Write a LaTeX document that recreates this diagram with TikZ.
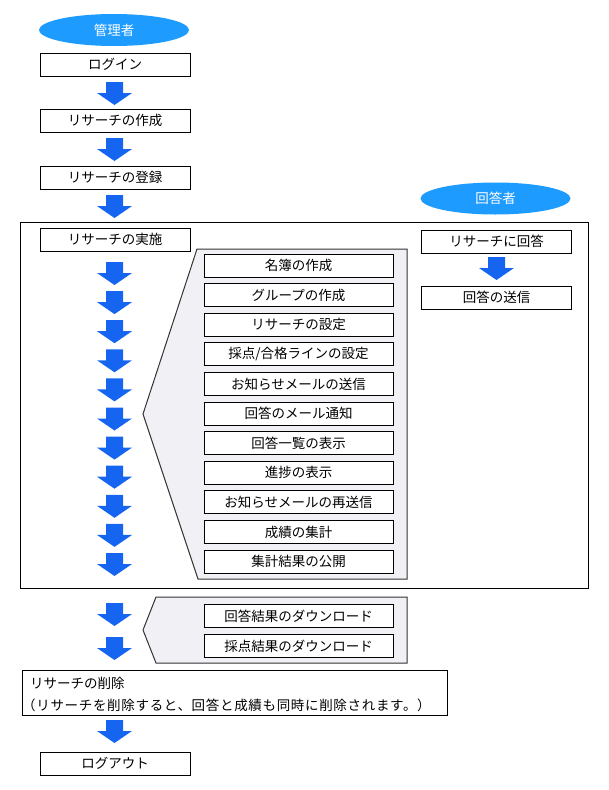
\documentclass[tikz,border=0pt]{standalone}
\usepackage{fontspec}
\setmainfont{Noto Sans CJK JP}
\usetikzlibrary{shapes.geometric}
\definecolor{arrowblue}{RGB}{21,101,240}
\definecolor{ellblue}{RGB}{30,155,255}
\definecolor{calloutfill}{RGB}{240,240,245}
\tikzset{
  box/.style={draw=black, line width=1pt, fill=white, minimum width=150pt, minimum height=23pt, inner sep=0pt, font=\fontsize{13.5}{15}\selectfont},
  innerbox/.style={box, minimum width=189pt},
  actor/.style={ellipse, fill=ellblue, text=white, minimum width=150pt, minimum height=32pt, inner sep=0pt, font=\fontsize{13.5}{15}\selectfont},
  plain/.style={inner sep=0pt, anchor=west, font=\fontsize{13.5}{15}\selectfont},
  callout/.style={draw=black!80, line width=1pt, fill=calloutfill},
  bluearrow/.pic={\fill[arrowblue] (-8.5,0) -- (8.5,0) -- (8.5,11) -- (17.5,11) -- (0,23) -- (-17.5,11) -- (-8.5,11) -- cycle;}
}
\begin{document}
\begin{tikzpicture}[x=1pt,y=-1pt]
\useasboundingbox (0,0) rectangle (609,790);
% actors
\node[actor] (admin) at (114,30) {管理者};
\node[actor] (resp) at (495.5,198.5) {回答者};
% top flow
\node[box] (login) at (115,64.5) {ログイン};
\pic at (114.5,82) {bluearrow};
\node[box] (create) at (115,120.5) {リサーチの作成};
\pic at (114.5,138) {bluearrow};
\node[box] (reg) at (115,177.5) {リサーチの登録};
\pic at (114.5,195) {bluearrow};
% frame
\draw[line width=1pt] (20,222.5) rectangle (588,588);
\node[box] (run) at (115,239.5) {リサーチの実施};
\foreach \k in {0,...,10} { \pic at (114.5,{262+29.1*\k}) {bluearrow}; }
% callout 1
\draw[callout] (143,414) -- (197,249) -- (407,249) -- (407,579) -- (198,579) -- cycle;
\foreach \t [count=\k from 0] in {名簿の作成,グループの作成,リサーチの設定,採点/合格ラインの設定,お知らせメールの送信,回答のメール通知,回答一覧の表示,進捗の表示,お知らせメールの再送信,成績の集計,集計結果の公開} {
  \node[innerbox] (i\k) at (298.5,{265.5+29.6*\k}) {\t};
}
% respondent
\node[box] (answer) at (496.5,241.5) {リサーチに回答};
\pic at (496.5,257) {bluearrow};
\node[box] (send) at (496.5,297.5) {回答の送信};
% lower section
\pic at (114.5,603) {bluearrow};
\pic at (114.5,637) {bluearrow};
\draw[callout] (143,630) -- (156,597) -- (407,597) -- (407,663) -- (156,663) -- cycle;
\node[innerbox] (dl1) at (298.5,616) {回答結果のダウンロード};
\node[innerbox] (dl2) at (298.5,646) {採点結果のダウンロード};
% delete
\node[draw=black, line width=1pt, minimum width=425pt, minimum height=45pt, inner sep=0pt, anchor=north west] (del) at (22,670) {};
\node[plain] (del1) at (30,683) {リサーチの削除};
\node[plain] (del2) at (22,705) {\addfontfeature{LetterSpace=5}（リサーチを削除すると、回答と成績も同時に削除されます。）};
\pic at (114.5,720) {bluearrow};
\node[box] (logout) at (115,763.5) {ログアウト};
\end{tikzpicture}
\end{document}
